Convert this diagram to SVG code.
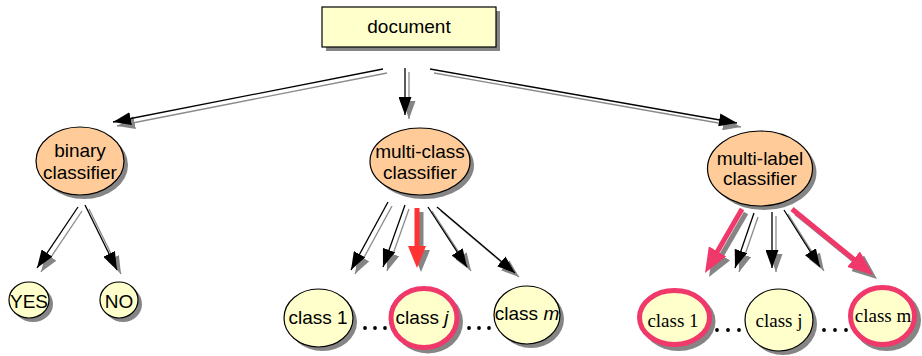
<svg xmlns="http://www.w3.org/2000/svg" width="922" height="356" viewBox="0 0 922 356">
<style>
.sh{fill:#858585;stroke:none}
.peach{fill:#FFCC99;stroke:#000;stroke-width:1.2}
.cream{fill:#FFFFCC;stroke:#000;stroke-width:1.2}
.sel{fill:#FFFFCC;stroke:#F0386B;stroke-width:5}
.t{font-family:"Liberation Sans",Arial,sans-serif;font-size:19px;fill:#000;text-anchor:middle}
.ts{font-family:"Liberation Serif","Times New Roman",serif;font-size:19px;fill:#000;text-anchor:middle}
.ln{fill:none;stroke:#000;stroke-width:1.3;marker-end:url(#ah)}
.lns{fill:none;stroke:#8a8a8a;stroke-width:1.3;marker-end:url(#ahs)}
.rmc{fill:none;stroke:#FF3333;stroke-width:5;marker-end:url(#arm)}
.rmcs{fill:none;stroke:#858585;stroke-width:5;marker-end:url(#arms)}
.rml{fill:none;stroke:#F0386B;stroke-width:5;marker-end:url(#arl)}
.rmls{fill:none;stroke:#858585;stroke-width:5;marker-end:url(#arls)}
.dot{fill:#000}
</style>
<defs>
<marker id="ah" markerUnits="userSpaceOnUse" markerWidth="18" markerHeight="13" refX="18" refY="6.5" orient="auto"><path d="M0,0 L18,6.5 L0,13 z" fill="#000"/></marker>
<marker id="ahs" markerUnits="userSpaceOnUse" markerWidth="18" markerHeight="13" refX="18" refY="6.5" orient="auto"><path d="M0,0 L18,6.5 L0,13 z" fill="#858585"/></marker>
<marker id="arm" markerUnits="userSpaceOnUse" markerWidth="22" markerHeight="18" refX="7" refY="9" orient="auto"><path d="M0,0 L22,9 L0,18 z" fill="#FF3333"/></marker>
<marker id="arms" markerUnits="userSpaceOnUse" markerWidth="22" markerHeight="18" refX="7" refY="9" orient="auto"><path d="M0,0 L22,9 L0,18 z" fill="#858585"/></marker>
<marker id="arl" markerUnits="userSpaceOnUse" markerWidth="25" markerHeight="20" refX="10" refY="10" orient="auto"><path d="M0,0 L25,10 L0,20 z" fill="#F0386B"/></marker>
<marker id="arls" markerUnits="userSpaceOnUse" markerWidth="25" markerHeight="20" refX="10" refY="10" orient="auto"><path d="M0,0 L25,10 L0,20 z" fill="#858585"/></marker>
</defs>
<rect width="922" height="356" fill="#fff"/>

<g id="connectors">
<g id="connector-shadows" transform="translate(4,4)">
<line class="lns" x1="383" y1="69" x2="113" y2="122"/>
<line class="lns" x1="405" y1="68" x2="405" y2="115"/>
<line class="lns" x1="430" y1="69" x2="737" y2="123"/>
<line class="lns" x1="78" y1="207" x2="37" y2="268"/>
<line class="lns" x1="85" y1="205" x2="117" y2="270"/>
<line class="lns" x1="388" y1="202" x2="351" y2="270"/>
<line class="lns" x1="405" y1="205" x2="383" y2="267"/>
<line class="lns" x1="428" y1="207" x2="467" y2="267"/>
<line class="lns" x1="437" y1="207" x2="515" y2="273"/>
<line class="lns" x1="754" y1="213" x2="735" y2="268"/>
<line class="lns" x1="772" y1="212" x2="772" y2="268"/>
<line class="lns" x1="784" y1="210" x2="820" y2="267"/>
<line class="rmcs" x1="417" y1="208" x2="417" y2="253"/>
<line class="rmls" x1="742" y1="209" x2="712.5" y2="260"/>
<line class="rmls" x1="792" y1="209" x2="861.4" y2="265.5"/>
</g>
<line class="ln" x1="383" y1="69" x2="113" y2="122"/>
<line class="ln" x1="405" y1="68" x2="405" y2="115"/>
<line class="ln" x1="430" y1="69" x2="737" y2="123"/>
<line class="ln" x1="78" y1="207" x2="37" y2="268"/>
<line class="ln" x1="85" y1="205" x2="117" y2="270"/>
<line class="ln" x1="388" y1="202" x2="351" y2="270"/>
<line class="ln" x1="405" y1="205" x2="383" y2="267"/>
<line class="ln" x1="428" y1="207" x2="467" y2="267"/>
<line class="ln" x1="437" y1="207" x2="515" y2="273"/>
<line class="ln" x1="754" y1="213" x2="735" y2="268"/>
<line class="ln" x1="772" y1="212" x2="772" y2="268"/>
<line class="ln" x1="784" y1="210" x2="820" y2="267"/>
<line class="rmc" x1="417" y1="208" x2="417" y2="253"/>
<line class="rml" x1="742" y1="209" x2="712.5" y2="260"/>
<line class="rml" x1="792" y1="209" x2="861.4" y2="265.5"/>
</g>

<g id="document">
<rect class="sh" x="326" y="11" width="174" height="40"/>
<rect class="cream" x="322" y="7" width="174" height="40"/>
<text class="t" x="409" y="33">document</text>
</g>

<g id="binary-classifier">
<ellipse class="sh" cx="84" cy="165" rx="44" ry="34"/>
<ellipse class="peach" cx="80" cy="161" rx="44" ry="34"/>
<text class="t" x="80" y="157">binary</text>
<text class="t" x="80" y="179">classifier</text>
</g>

<g id="multi-class-classifier">
<ellipse class="sh" cx="424" cy="165.5" rx="50" ry="33.5"/>
<ellipse class="peach" cx="420" cy="161.5" rx="50" ry="33.5"/>
<text class="t" x="420" y="158">multi-class</text>
<text class="t" x="420" y="179">classifier</text>
</g>

<g id="multi-label-classifier">
<ellipse class="sh" cx="764" cy="172.5" rx="52.5" ry="37.5"/>
<ellipse class="peach" cx="760" cy="168.5" rx="52.5" ry="37.5"/>
<text class="t" x="760" y="165">multi-label</text>
<text class="t" x="760" y="185">classifier</text>
</g>

<g id="yes">
<ellipse class="sh" cx="33" cy="304" rx="20" ry="18"/>
<ellipse class="cream" cx="29" cy="300" rx="20" ry="18"/>
<text class="t" x="29" y="308">YES</text>
</g>

<g id="no">
<ellipse class="sh" cx="123" cy="304" rx="19" ry="18"/>
<ellipse class="cream" cx="119" cy="300" rx="19" ry="18"/>
<text class="t" x="119" y="308">NO</text>
</g>

<g id="mc-class-1">
<ellipse class="sh" cx="322.5" cy="322" rx="34.5" ry="29"/>
<ellipse class="cream" cx="318.5" cy="318" rx="34.5" ry="29"/>
<text class="t" x="318" y="324">class 1</text>
</g>

<g id="mc-class-j">
<ellipse class="sh" cx="428" cy="322" rx="35" ry="31.5"/>
<ellipse class="sel" cx="424" cy="318" rx="33" ry="29.5"/>
<text class="t" x="422" y="324">class <tspan font-style="italic">j</tspan></text>
</g>

<g id="mc-class-m">
<ellipse class="sh" cx="531" cy="319" rx="33" ry="29"/>
<ellipse class="cream" cx="527" cy="315" rx="33" ry="29"/>
<text class="t" x="527" y="320">class <tspan font-style="italic">m</tspan></text>
</g>

<g id="mc-dots">
<circle class="dot" cx="365" cy="328" r="1.9"/>
<circle class="dot" cx="375" cy="328" r="1.9"/>
<circle class="dot" cx="385" cy="328" r="1.9"/>
<circle class="dot" cx="469" cy="328" r="1.9"/>
<circle class="dot" cx="479" cy="328" r="1.9"/>
<circle class="dot" cx="489" cy="328" r="1.9"/>
</g>

<g id="ml-class-1">
<ellipse class="sh" cx="678.5" cy="321.5" rx="37" ry="29.5"/>
<ellipse class="sel" cx="674.5" cy="317.5" rx="35" ry="27"/>
<text class="ts" x="673" y="327">class 1</text>
</g>

<g id="ml-class-j">
<ellipse class="sh" cx="783" cy="324" rx="34" ry="31"/>
<ellipse class="cream" cx="779" cy="320" rx="34" ry="31"/>
<text class="ts" x="779" y="327">class j</text>
</g>

<g id="ml-class-m">
<ellipse class="sh" cx="886.5" cy="320" rx="34.5" ry="31"/>
<ellipse class="sel" cx="882.5" cy="316" rx="32" ry="28.5"/>
<text class="ts" x="883" y="322">class m</text>
</g>

<g id="ml-dots">
<circle class="dot" cx="717" cy="330" r="1.9"/>
<circle class="dot" cx="728" cy="330" r="1.9"/>
<circle class="dot" cx="739" cy="330" r="1.9"/>
<circle class="dot" cx="824" cy="330" r="1.9"/>
<circle class="dot" cx="835" cy="330" r="1.9"/>
<circle class="dot" cx="846" cy="330" r="1.9"/>
</g>
</svg>
